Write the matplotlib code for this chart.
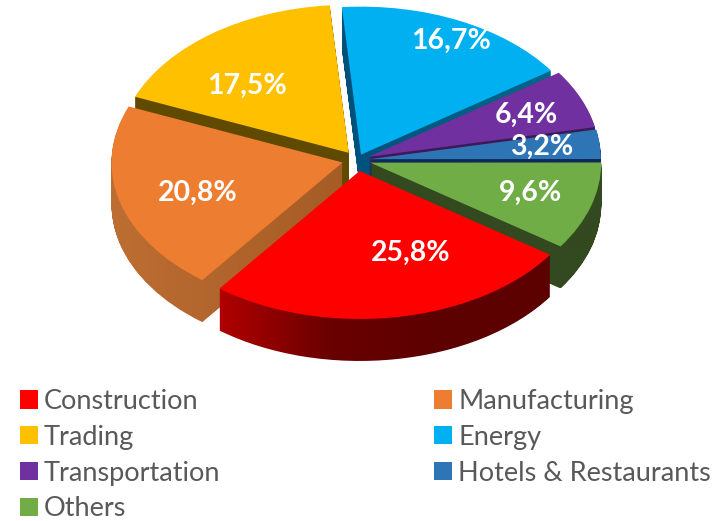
import numpy as np
import matplotlib
matplotlib.use("Agg")
import matplotlib.pyplot as plt
from matplotlib.colors import LinearSegmentedColormap
from matplotlib.path import Path
from matplotlib.patches import Patch

# ---- data ----
sectors = ["Construction", "Manufacturing", "Trading", "Energy",
           "Transportation", "Hotels & Restaurants", "Others"]
shares = [25.8, 20.8, 17.5, 16.7, 6.4, 3.2, 9.6]
share_labels = ["25,8%", "20,8%", "17,5%", "16,7%", "6,4%", "3,2%", "9,6%"]

# ---- styling ----
top_colors = ["#FF0000", "#ED7D31", "#FFC000", "#00B0F0", "#7030A0", "#2E75B6", "#70AD47"]
side_colors = [["#b00000", "#6a0000", "#5c0000", "#5c0000"],
               ["#bd6e33", "#a55c25"],
               ["#5f4a00", "#5f4a00"],
               ["#00507a", "#00678c"],
               ["#3c1a58", "#3c1a58"],
               ["#0f2a5a", "#0f2a5a"],
               ["#33491f", "#33491f"]]
explode = [0.075, 0.065, 0.06, 0.04, 0.055, 0.056, 0.06]
draw_order = [2, 3, 4, 5, 6, 1, 0]  # back to front

W, H = 719, 521
RX, RY = 231.0, 148.0
CX, CY = 357.0, 160.0
DEPTH_PX = 42
plt.rcParams["font.family"] = ["Lato", "DejaVu Sans"]

fig = plt.figure(figsize=(W / 100, H / 100), dpi=100)
ax = fig.add_axes([0, 0, 1, 1])
wedges, _ = ax.pie(shares, colors=top_colors, explode=explode, startangle=-34.5,
                   counterclock=False, radius=1, wedgeprops={"linewidth": 0})
ax.set_aspect("auto")
xlim = (-CX / RX, (W - CX) / RX)
ylim = ((CY - H) / RY, CY / RY)


def to_data(px, py):
    return (px - CX) / RX, (CY - py) / RY


dy = 1.0 / RY
for rank, i in enumerate(draw_order):
    w = wedges[i]
    base = w.get_path().transformed(w.get_patch_transform())
    layers = [Path(base.vertices + np.array([0, -k * dy]), base.codes)
              for k in range(1, DEPTH_PX + 1)]
    stack = Path.make_compound_path(*layers)
    x0, y0 = stack.vertices.min(axis=0)
    x1, y1 = stack.vertices.max(axis=0)
    cmap = LinearSegmentedColormap.from_list(f"s{i}", side_colors[i])
    im = ax.imshow(np.linspace(0, 1, 256)[None, :], cmap=cmap, extent=[x0, x1, y0, y1],
                   aspect="auto", interpolation="bilinear", zorder=10 + 2 * rank)
    im.set_clip_path(stack, transform=ax.transData)
    w.set_zorder(11 + 2 * rank)

ax.set_xlim(*xlim)
ax.set_ylim(*ylim)

label_px = [(411, 253), (198, 193), (247, 86), (451, 41), (526, 115), (542, 147), (531, 193)]
for lab, (px, py) in zip(share_labels, label_px):
    x, y = to_data(px, py)
    ax.text(x, y, lab, color="white", fontsize=20.5, fontweight="bold",
            ha="center", va="center", zorder=50)

order = [0, 2, 4, 6, 1, 3, 5]
handles = [Patch(facecolor=top_colors[i], linewidth=0) for i in order]
labels = [sectors[i] for i in order]
fig.legend(handles, labels, ncols=2, frameon=False, fontsize=19.5, labelcolor="#595959",
           loc="upper left", bbox_to_anchor=(20 / W, 1 - 389 / H), borderaxespad=0, borderpad=0,
           handlelength=0.66, handleheight=0.66, handletextpad=0.22,
           labelspacing=0.40, columnspacing=7.9)

fig.savefig("out.png", dpi=100)
